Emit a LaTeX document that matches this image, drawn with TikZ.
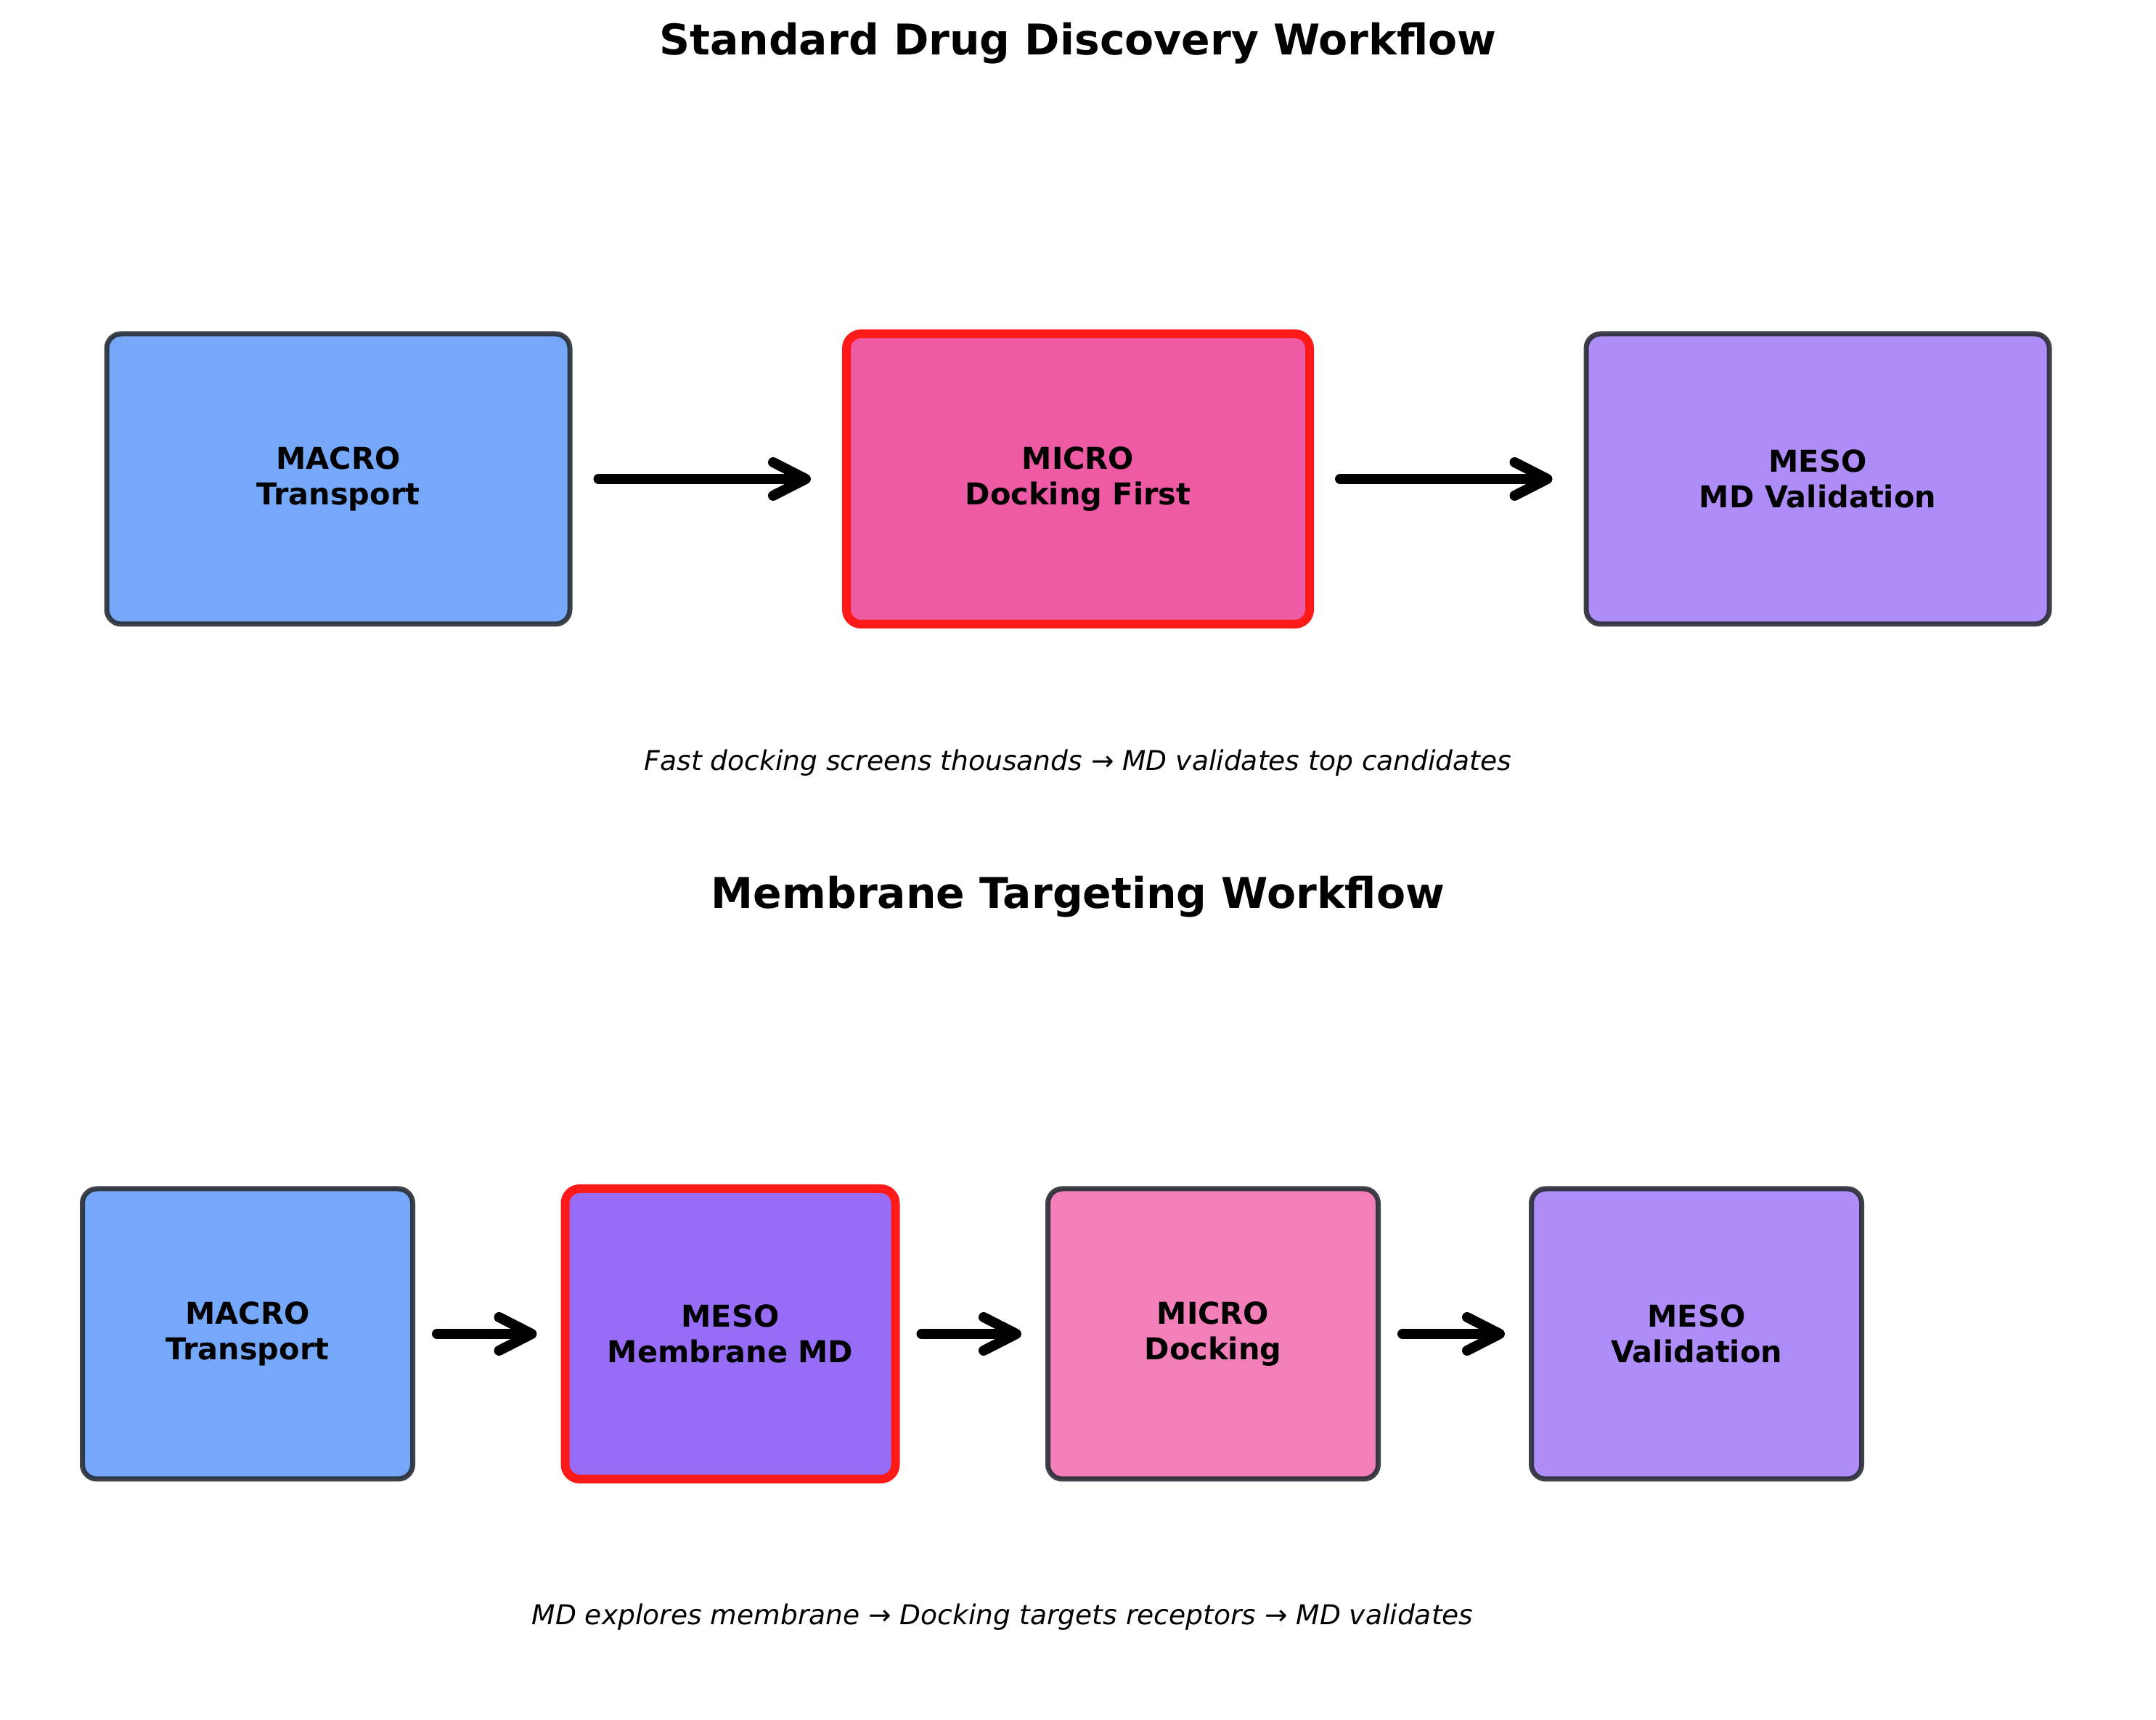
\documentclass[tikz,border=0pt]{standalone}
\usepackage{fontspec}
\setmainfont{DejaVu Sans}
\usetikzlibrary{arrows.meta}
\definecolor{macrofill}{RGB}{118,168,249}
\definecolor{mesofill}{RGB}{174,141,249}
\definecolor{mesohot}{RGB}{151,108,247}
\definecolor{microfill}{RGB}{242,127,184}
\definecolor{microhot}{RGB}{238,90,163}
\definecolor{edgegray}{RGB}{40,44,52}
\definecolor{hotred}{RGB}{255,26,26}
\begin{document}
\begin{tikzpicture}[
    stage/.style={draw=edgegray, draw opacity=0.9, line width=0.7mm,
      rounded corners=2mm, minimum height=4cm, inner sep=0pt, align=center,
      font=\bfseries\fontsize{11.8}{14.1}\selectfont},
    wide/.style={minimum width=6.38cm},
    narrow/.style={minimum width=4.55cm},
    hot/.style={draw=hotred, draw opacity=1, line width=1.2mm},
    flow/.style={-{Straight Barb[round,length=4.5mm,width=4.6mm]},
      line width=1.4mm, line cap=round},
    title/.style={anchor=base, font=\bfseries\fontsize{16.6}{20}\selectfont},
    note/.style={anchor=base, font=\itshape\fontsize{10.7}{12.8}\selectfont}]
    \useasboundingbox (0,0) rectangle (29.7,23.7);
    % standard workflow
    \node [title] (t1) at (14.85,22.94) {Standard Drug Discovery Workflow};
    \node [stage,wide,fill=macrofill] (mac1) at (4.66,17.10) {MACRO\\Transport};
    \node [stage,wide,hot,fill=microhot] (mic1) at (14.85,17.10) {MICRO\\Docking First};
    \node [stage,wide,fill=mesofill] (mes1) at (25.04,17.10) {MESO\\MD Validation};
    \draw [flow,shorten <=3.6mm,shorten >=4.3mm] (mac1) -- (mic1);
    \draw [flow,shorten <=3.6mm,shorten >=4.3mm] (mic1) -- (mes1);
    \node [note] (c1) at (14.85,13.08) {Fast docking screens thousands → MD validates top candidates};
    % membrane workflow
    \node [title] (t2) at (14.85,11.18) {Membrane Targeting Workflow};
    \node [stage,narrow,fill=macrofill] (mac2) at (3.41,5.32) {MACRO\\Transport};
    \node [stage,narrow,hot,fill=mesohot] (mes2) at (10.06,5.32) {MESO\\Membrane MD};
    \node [stage,narrow,fill=microfill] (mic2) at (16.71,5.32) {MICRO\\Docking};
    \node [stage,narrow,fill=mesofill] (val2) at (23.37,5.32) {MESO\\Validation};
    \draw [flow,shorten <=3mm,shorten >=3.3mm] (mac2) -- (mes2);
    \draw [flow,shorten <=3mm,shorten >=3.3mm] (mes2) -- (mic2);
    \draw [flow,shorten <=3mm,shorten >=3.3mm] (mic2) -- (val2);
    \node [note] (c2) at (13.81,1.31) {MD explores membrane → Docking targets receptors → MD validates};
  \end{tikzpicture}
\end{document}
